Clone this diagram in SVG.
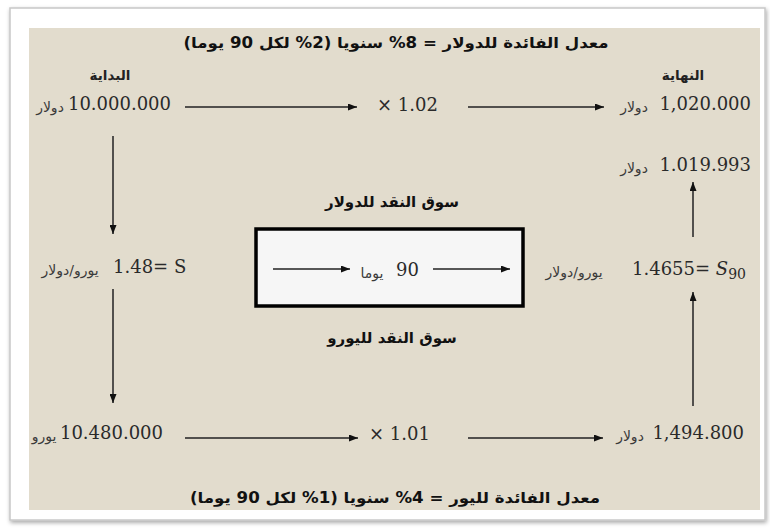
<svg xmlns="http://www.w3.org/2000/svg" width="770" height="528" viewBox="0 0 770 528">
<defs>
<marker id="ah" viewBox="0 0 10 10" refX="10" refY="5" markerWidth="9" markerHeight="7" markerUnits="userSpaceOnUse" orient="auto" preserveAspectRatio="none">
<path d="M0,0 L10,5 L0,10 z" fill="#111"/>
</marker>
<filter id="sh" x="-5%" y="-5%" width="110%" height="110%">
<feDropShadow dx="1" dy="2" stdDeviation="2" flood-color="#000" flood-opacity="0.35"/>
</filter>
</defs>
<style>
.num{font-family:"DejaVu Serif","Liberation Serif",serif;font-size:18px;fill:#2a2a2a}
.ar{font-family:"DejaVu Sans",sans-serif;font-size:14px;fill:#3a3a3a}
.tb{font-family:"DejaVu Sans",sans-serif;font-size:15px;font-weight:bold;fill:#111}
.hd{font-family:"DejaVu Sans",sans-serif;font-size:13.5px;font-weight:bold;fill:#222}
.cn{stroke:#222;stroke-width:1.5;fill:none;marker-end:url(#ah)}
</style>
<rect width="770" height="528" fill="#ffffff"/>
<rect x="10" y="8" width="755" height="512" fill="#ffffff" stroke="#c8c8c8" stroke-width="1.5" filter="url(#sh)"/>
<rect x="29" y="28" width="731" height="482" fill="#e2dccd"/>

<g id="title-top"><text class="tb" x="396" y="48" text-anchor="middle" direction="rtl" textLength="425" lengthAdjust="spacingAndGlyphs">معدل الفائدة للدولار = 8% سنويا (2% لكل 90 يوما)</text></g>
<g id="title-bottom"><text class="tb" x="395" y="503" text-anchor="middle" direction="rtl" textLength="410" lengthAdjust="spacingAndGlyphs">معدل الفائدة لليور = 4% سنويا (1% لكل 90 يوما)</text></g>

<g id="start">
<text class="hd" x="110" y="80" text-anchor="middle" direction="rtl">البداية</text>
<text class="num" x="171" y="110" text-anchor="end">10.000.000</text>
<text class="ar" x="50" y="112" text-anchor="middle" direction="rtl">دولار</text>
</g>
<g id="mult-usd"><text class="num" x="377" y="111" direction="ltr">× 1.02</text></g>
<g id="end">
<text class="hd" x="683" y="80" text-anchor="middle" direction="rtl">النهاية</text>
<text class="num" x="751" y="110" text-anchor="end">1,020.000</text>
<text class="ar" x="634" y="112" text-anchor="middle" direction="rtl">دولار</text>
</g>
<g id="result">
<text class="num" x="751" y="171" text-anchor="end">1.019.993</text>
<text class="ar" x="634" y="173" text-anchor="middle" direction="rtl">دولار</text>
</g>

<g id="spot">
<text class="num" x="113" y="273" direction="ltr">1.48= S</text>
<text class="ar" x="70" y="275" text-anchor="middle" direction="rtl">يورو/دولار</text>
</g>

<g id="market">
<text class="tb" x="392" y="207" text-anchor="middle" direction="rtl">سوق النقد للدولار</text>
<rect x="256" y="229" width="267" height="77" fill="#f6f6f6" stroke="#000" stroke-width="3.5"/>
<text class="num" x="419" y="276" text-anchor="end">90</text>
<text class="ar" x="372" y="278" text-anchor="middle" direction="rtl">يوما</text>
<text class="tb" x="392" y="343" text-anchor="middle" direction="rtl">سوق النقد لليورو</text>
</g>

<g id="forward">
<text class="num" x="746" y="275" text-anchor="end" direction="ltr">1.4655= <tspan font-style="italic">S</tspan><tspan font-size="14" dy="4">90</tspan></text>
<text class="ar" x="574" y="277" text-anchor="middle" direction="rtl">يورو/دولار</text>
</g>

<g id="eur">
<text class="num" x="163" y="439" text-anchor="end">10.480.000</text>
<text class="ar" x="44" y="441" text-anchor="middle" direction="rtl">يورو</text>
</g>
<g id="mult-eur"><text class="num" x="369" y="440" direction="ltr">× 1.01</text></g>
<g id="eur-end">
<text class="num" x="744" y="439" text-anchor="end">1,494.800</text>
<text class="ar" x="630" y="441" text-anchor="middle" direction="rtl">دولار</text>
</g>

<g id="connectors">
<line class="cn" x1="185" y1="107" x2="357" y2="107"/>
<line class="cn" x1="468" y1="107" x2="604" y2="107"/>
<line class="cn" x1="113" y1="136" x2="113" y2="234"/>
<line class="cn" x1="113" y1="289" x2="113" y2="403"/>
<line class="cn" x1="273" y1="269" x2="350" y2="269"/>
<line class="cn" x1="433" y1="269" x2="510" y2="269"/>
<line class="cn" x1="693" y1="406" x2="693" y2="292"/>
<line class="cn" x1="693" y1="237" x2="693" y2="182"/>
<line class="cn" x1="185" y1="438" x2="358" y2="438"/>
<line class="cn" x1="468" y1="438" x2="603" y2="438"/>
</g>
</svg>
